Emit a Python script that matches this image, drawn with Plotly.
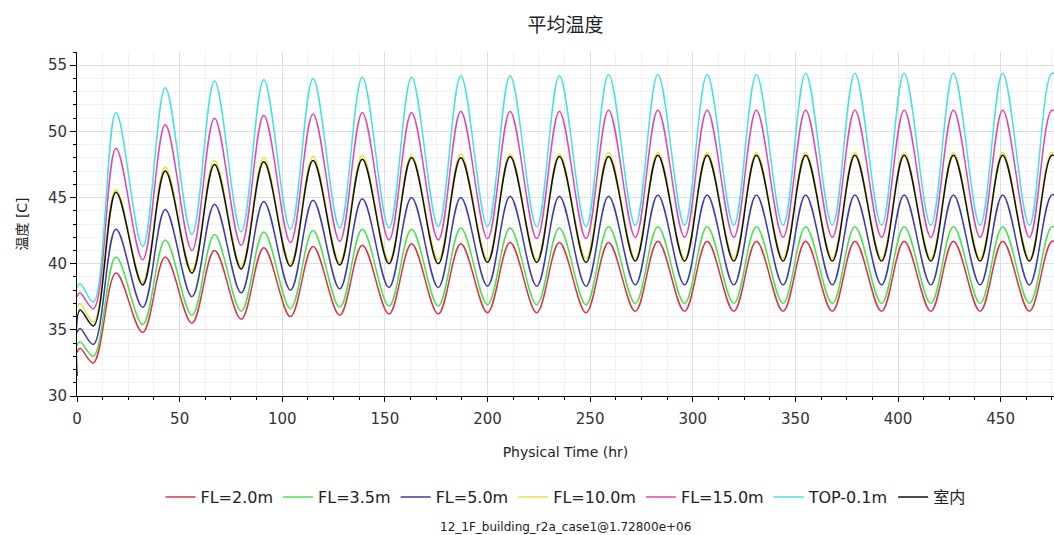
import plotly.graph_objects as go

# ---- data ----
start_hours = [0, 1.5]
trough_hours = [8, 32, 56, 80, 104, 128, 152, 176, 200, 224, 248, 272, 296, 320, 344, 368, 392, 416, 440, 464]
peak_hours = [19, 43, 67, 91, 115, 139, 163, 187, 211, 235, 259, 283, 307, 331, 355, 379, 403, 427, 451, 475]
end_hour = 480

series_names = ["FL=2.0m", "FL=3.5m", "FL=5.0m", "FL=10.0m", "FL=15.0m", "TOP-0.1m", "室内"]
series_colors = ["#d8344a", "#4ee04e", "#3c3ca8", "#ece33c", "#e044b8", "#44e2e2", "#111111"]

fl20_start = [33.3, 33.6]
fl20_trough = [32.5, 34.8, 35.5, 35.8, 36.0, 36.1, 36.2, 36.2, 36.3, 36.3, 36.3, 36.4, 36.4, 36.4, 36.4, 36.4, 36.4, 36.4, 36.4, 36.4]
fl20_peak = [39.3, 40.5, 41.0, 41.2, 41.3, 41.4, 41.5, 41.5, 41.6, 41.6, 41.6, 41.7, 41.7, 41.7, 41.7, 41.7, 41.7, 41.7, 41.7, 41.7]
fl20_end = 41.2

fl35_start = [33.8, 34.1]
fl35_trough = [33.0, 35.4, 36.1, 36.4, 36.6, 36.7, 36.8, 36.8, 36.9, 36.9, 36.9, 37.0, 37.0, 37.0, 37.0, 37.0, 37.0, 37.0, 37.0, 37.0]
fl35_peak = [40.5, 41.8, 42.2, 42.4, 42.5, 42.6, 42.6, 42.7, 42.7, 42.7, 42.8, 42.8, 42.8, 42.8, 42.8, 42.8, 42.8, 42.8, 42.8, 42.8]
fl35_end = 42.3

fl50_start = [34.8, 35.1]
fl50_trough = [33.9, 36.7, 37.5, 37.8, 38.0, 38.1, 38.2, 38.2, 38.3, 38.3, 38.3, 38.4, 38.4, 38.4, 38.4, 38.4, 38.4, 38.4, 38.4, 38.4]
fl50_peak = [42.6, 44.1, 44.5, 44.7, 44.8, 44.9, 45.0, 45.0, 45.1, 45.1, 45.1, 45.2, 45.2, 45.2, 45.2, 45.2, 45.2, 45.2, 45.2, 45.2]
fl50_end = 44.6

fl100_start = [36.7, 37.0]
fl100_trough = [35.6, 38.6, 39.5, 39.8, 40.0, 40.1, 40.2, 40.3, 40.3, 40.3, 40.4, 40.4, 40.4, 40.4, 40.4, 40.4, 40.4, 40.4, 40.4, 40.4]
fl100_peak = [45.6, 47.3, 47.8, 48.0, 48.1, 48.2, 48.2, 48.3, 48.3, 48.3, 48.4, 48.4, 48.4, 48.4, 48.4, 48.4, 48.4, 48.4, 48.4, 48.4]
fl100_end = 47.7

fl150_start = [37.5, 37.8]
fl150_trough = [36.6, 40.3, 41.0, 41.4, 41.6, 41.7, 41.8, 41.8, 41.9, 41.9, 41.9, 42.0, 42.0, 42.0, 42.0, 42.0, 42.0, 42.0, 42.0, 42.0]
fl150_peak = [48.7, 50.5, 51.0, 51.2, 51.3, 51.4, 51.4, 51.5, 51.5, 51.5, 51.6, 51.6, 51.6, 51.6, 51.6, 51.6, 51.6, 51.6, 51.6, 51.6]
fl150_end = 50.8

top_start = [38.2, 38.5]
top_trough = [37.1, 41.3, 42.2, 42.4, 42.6, 42.7, 42.7, 42.8, 42.8, 42.8, 42.8, 42.9, 42.9, 42.9, 42.9, 42.9, 42.9, 42.9, 42.9, 42.9]
top_peak = [51.4, 53.3, 53.8, 53.9, 54.0, 54.1, 54.1, 54.2, 54.2, 54.2, 54.3, 54.3, 54.3, 54.3, 54.4, 54.4, 54.4, 54.4, 54.4, 54.4]
top_end = 53.6

room_start = [31.5, 36.5]
room_trough = [35.3, 38.4, 39.3, 39.6, 39.8, 39.9, 40.0, 40.0, 40.1, 40.1, 40.1, 40.2, 40.2, 40.2, 40.2, 40.2, 40.2, 40.2, 40.2, 40.2]
room_peak = [45.4, 47.0, 47.5, 47.7, 47.8, 47.9, 48.0, 48.0, 48.1, 48.1, 48.1, 48.2, 48.2, 48.2, 48.2, 48.2, 48.2, 48.2, 48.2, 48.2]
room_end = 47.5

x_tick_vals = [0, 50, 100, 150, 200, 250, 300, 350, 400, 450]
y_tick_vals = [30, 35, 40, 45, 50, 55]

title_text = "平均温度"
x_title = "Physical Time (hr)"
y_title = "温度 [C]"
footer_text = "12_1F_building_r2a_case1@1.72800e+06"


def assemble(start, trough, peak, end):
    xs = list(start_hours)
    ys = list(start)
    for th, tv, ph, pv in zip(trough_hours, trough, peak_hours, peak):
        xs += [th, ph]
        ys += [tv, pv]
    xs.append(end_hour)
    ys.append(end)
    return xs, ys


all_series = [
    (fl20_start, fl20_trough, fl20_peak, fl20_end),
    (fl35_start, fl35_trough, fl35_peak, fl35_end),
    (fl50_start, fl50_trough, fl50_peak, fl50_end),
    (fl100_start, fl100_trough, fl100_peak, fl100_end),
    (fl150_start, fl150_trough, fl150_peak, fl150_end),
    (top_start, top_trough, top_peak, top_end),
    (room_start, room_trough, room_peak, room_end),
]

FONT = "DejaVu Sans, Noto Sans CJK SC, sans-serif"

fig = go.Figure()
for name, color, s in zip(series_names, series_colors, all_series):
    xs, ys = assemble(*s)
    fig.add_trace(go.Scatter(
        x=xs, y=ys, mode="lines", name=name,
        line=dict(color=color, width=1.5, shape="spline", smoothing=1.0),
    ))

fig.update_layout(
    width=1054, height=535,
    margin=dict(l=77, r=0, t=52, b=139),
    paper_bgcolor="white", plot_bgcolor="white",
    font=dict(family=FONT, size=14, color="#222222"),
    title=dict(text=title_text, x=0.5365, xanchor="center", y=0.953, yanchor="middle",
               font=dict(family="Noto Sans CJK SC, sans-serif", size=19, color="#222222")),
    showlegend=True,
    legend=dict(orientation="h", x=0.5, xanchor="center", y=-0.294, yanchor="middle",
                font=dict(family=FONT, size=16, color="#222222"),
                itemwidth=30, tracegroupgap=0),
)

fig.update_xaxes(
    range=[0, 476], tickvals=x_tick_vals,
    showline=True, linecolor="#000000", linewidth=1, mirror=False,
    ticks="outside", ticklen=5, tickcolor="#000000", ticklabelstandoff=4,
    tickfont=dict(family=FONT, size=15, color="#333333"),
    showgrid=True, gridcolor="#dedede", gridwidth=1,
    minor=dict(dtick=12.5, tick0=0, ticks="outside", ticklen=3, tickcolor="#000000",
               showgrid=True, gridcolor="#f1f1f1"),
    zeroline=False,
    title=dict(text=x_title, standoff=20, font=dict(family=FONT, size=14, color="#222222")),
)
fig.update_yaxes(
    range=[30, 56], tickvals=y_tick_vals,
    showline=True, linecolor="#000000", linewidth=1, mirror=False,
    ticks="outside", ticklen=6, tickcolor="#000000",
    tickfont=dict(family=FONT, size=15, color="#333333"),
    showgrid=True, gridcolor="#dedede", gridwidth=1,
    minor=dict(dtick=1, tick0=30, ticks="outside", ticklen=3, tickcolor="#000000",
               showgrid=True, gridcolor="#f1f1f1"),
    zeroline=False,
    title=dict(text=y_title, standoff=17, font=dict(family=FONT, size=14, color="#222222")),
)

fig.add_annotation(text=footer_text, xref="paper", yref="paper", x=0.5, y=-0.381,
                   xanchor="center", yanchor="middle", showarrow=False,
                   font=dict(family=FONT, size=12, color="#222222"))

fig.write_html("out.html", config={"displayModeBar": False},
               post_script="document.body.style.margin='0px';")
